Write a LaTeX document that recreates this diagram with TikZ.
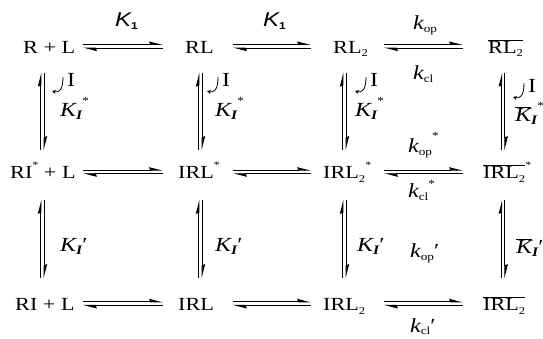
\documentclass[tikz,border=0pt]{standalone}
\usepackage{fontspec}
\setmainfont[FakeStretch=1.2]{Liberation Serif}
\newfontfamily\ksans[FakeStretch=1.2]{Liberation Sans}
\usetikzlibrary{arrows.meta,calc}
\newcommand\chsub[1]{\raisebox{-3.5pt}{\fontsize{10.5}{10.5}\selectfont #1}}
\newcommand\chst{\raisebox{10pt}{\fontsize{10}{10}\selectfont *}}
\newcommand\ksub[1]{\raisebox{-2.5pt}{\fontsize{11}{11}\selectfont\upshape #1}}
\newcommand\kst[1]{\raisebox{#1}{\fontsize{11}{11}\selectfont\upshape *}}
\newcommand\kIsub{\raisebox{-3pt}{\fontsize{13}{13}\selectfont\bfseries\itshape I}}
\newcommand\prm{{\upshape ′}}
\newcommand\Kone{{\ksans\itshape K}\raisebox{-3pt}{\ksans\fontsize{10}{10}\selectfont\bfseries 1}}
\newcommand\ovl[1]{$\overline{\mbox{#1}}$}
\newcommand\EqH[4]{%
  \draw[harp] ($(#1.base -| #3)+(0,8.75)$) -- ($(#2.base -| #4)+(0,8.75)$);
  \draw[harp] ($(#2.base -| #4)+(0,5.25)$) -- ($(#1.base -| #3)+(0,5.25)$);}
\newcommand\EqV[5]{%
  \draw[harp] ($(#2.base -| #3)+(-1.6,#5)$) -- ($(#1.base -| #3)+(-1.6,#4)$);
  \draw[harp] ($(#1.base -| #3)+(1.6,#4)$) -- ($(#2.base -| #3)+(1.6,#5)$);}
\newcommand\Hook[1]{%
  \draw[hookarr] ($(#1.base west)+(-4,10)$) .. controls ($(#1.base west)+(-4,-3)$) and ($(#1.base west)+(-8,-6)$) .. ($(#1.base west)+(-15,-4)$);}
\tikzset{
  chem/.style={anchor=base west, inner sep=0pt, font=\fontsize{18.5}{20}\selectfont},
  rate/.style={anchor=base west, inner sep=0pt, font=\fontsize{20}{22}\selectfont},
  harp/.style={line width=0.9pt, -{Stealth[harpoon,length=12pt,width=6pt,inset=1pt]}},
  hookarr/.style={line width=0.8pt, -{Stealth[length=4pt,width=4pt]}},
}
\begin{document}
\begin{tikzpicture}[x=1pt,y=1pt]
\useasboundingbox (0,0) rectangle (543,339);
% guides
\coordinate (h1s) at (83,0);  \coordinate (h1e) at (163,0);
\coordinate (h2s) at (233,0); \coordinate (h2e) at (311,0);
\coordinate (h3s) at (384,0); \coordinate (h3e) at (463,0);
\coordinate (v1) at (42.5,0); \coordinate (v2) at (200.5,0);
\coordinate (v3) at (344.5,0); \coordinate (v4) at (503.3,0);
% species
\node[chem] (rl0) at (23,285.7) {R + L};
\node[chem] (rl) at (185,285.7) {RL};
\node[chem] (rl2) at (333,285.7) {RL\chsub{2}};
\node[chem] (rl2b) at (488,285.7) {\ovl{RL\chsub{2}}};
\node[chem] (ris) at (10,160) {RI\chst{} + L};
\node[chem] (irls) at (178,160) {IRL\chst};
\node[chem] (irl2s) at (323,160) {IRL\chsub{2}\chst};
\node[chem] (irl2bs) at (483,160) {\ovl{IRL\chsub{2}}\chst};
\node[chem] (ri) at (15,28.3) {RI + L};
\node[chem] (irl) at (178,28.3) {IRL};
\node[chem] (irl2) at (323,28.3) {IRL\chsub{2}};
\node[chem] (irl2b) at (483,28.3) {\ovl{IRL\chsub{2}}};
% horizontal equilibria
\EqH{rl0}{rl}{h1s}{h1e}
\EqH{rl}{rl2}{h2s}{h2e}
\EqH{rl2}{rl2b}{h3s}{h3e}
\EqH{ris}{irls}{h1s}{h1e}
\EqH{irls}{irl2s}{h2s}{h2e}
\EqH{irl2s}{irl2bs}{h3s}{h3e}
\EqH{ri}{irl}{h1s}{h1e}
\EqH{irl}{irl2}{h2s}{h2e}
\EqH{irl2}{irl2b}{h3s}{h3e}
% vertical equilibria
\EqV{rl0}{ris}{v1}{-19.4}{29}
\EqV{rl}{irls}{v2}{-19.4}{29}
\EqV{rl2}{irl2s}{v3}{-19.4}{29}
\EqV{rl2b}{irl2bs}{v4}{-19.4}{29}
\EqV{ris}{ri}{v1}{-21}{32.7}
\EqV{irls}{irl}{v2}{-21}{32.7}
\EqV{irl2s}{irl2}{v3}{-21}{32.7}
\EqV{irl2bs}{irl2b}{v4}{-21}{32.7}
% horizontal constants
\node[rate] (k1a) at (115,312.3) {\Kone};
\node[rate] (k1b) at (263,312.3) {\Kone};
\node[rate] (kop) at (413,309) {\itshape k\ksub{op}};
\node[rate] (kcl) at (413,259) {\itshape k\ksub{cl}};
\node[rate] (kops) at (408,186) {\itshape k\ksub{op}\kst{13pt}};
\node[rate] (kcls) at (408,141) {\itshape k\ksub{cl}\kst{10pt}};
\node[rate] (kopp) at (410,81) {\itshape k\ksub{op}\prm};
\node[rate] (kclp) at (410,6.5) {\itshape k\ksub{cl}\prm};
% inhibitor binding
\node[rate] (i1) at (67,252) {I};
\node[rate] (i2) at (222,252) {I};
\node[rate] (i3) at (370,252) {I};
\node[rate] (i4) at (528,246) {I};
\Hook{i1}\Hook{i2}\Hook{i3}\Hook{i4}
\node[rate] (ks1) at (60,222) {\itshape K\kIsub\kst{12pt}};
\node[rate] (ks2) at (215,222) {\itshape K\kIsub\kst{12pt}};
\node[rate] (ks3) at (355,222) {\itshape K\kIsub\kst{12pt}};
\node[rate] (ks4) at (515,217) {\ovl{\itshape K}\kIsub\kst{12pt}};
\node[rate] (kp1) at (60,87) {\itshape K\kIsub\prm};
\node[rate] (kp2) at (215,87) {\itshape K\kIsub\prm};
\node[rate] (kp3) at (357,87) {\itshape K\kIsub\prm};
\node[rate] (kp4) at (516,85) {\ovl{\itshape K}\kIsub\prm};
\end{tikzpicture}
\end{document}
